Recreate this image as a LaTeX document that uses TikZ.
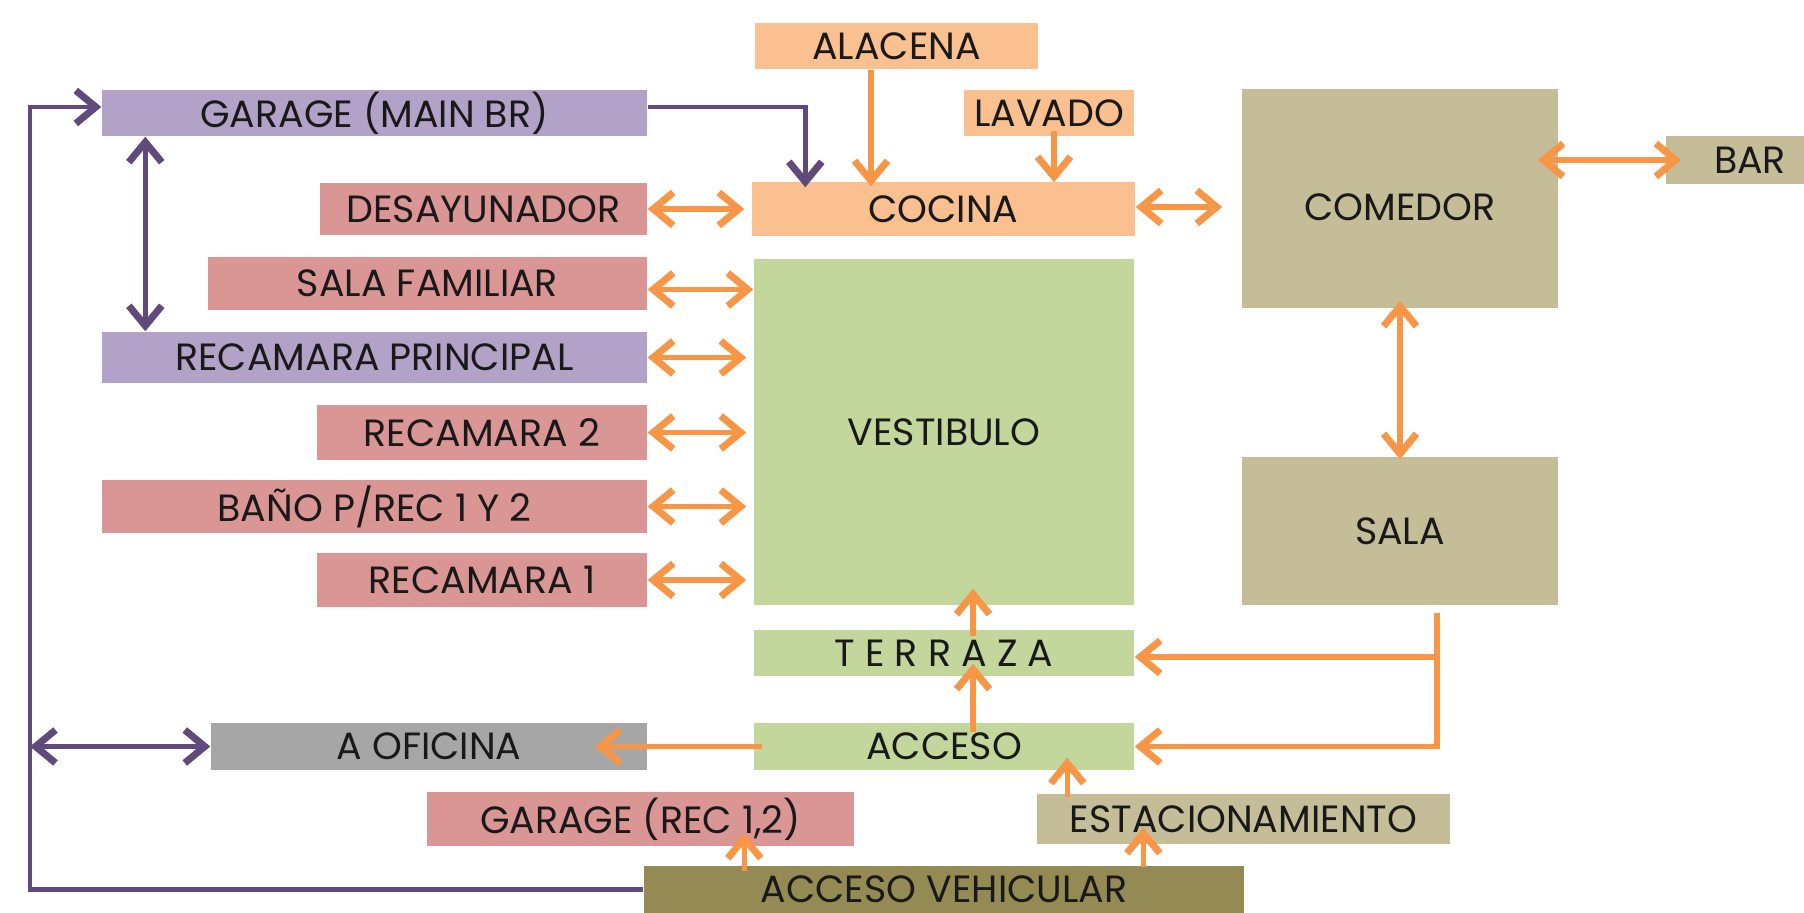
\documentclass[tikz,border=0pt]{standalone}
\usepackage{fontspec}
\setmainfont{Poppins}
\usetikzlibrary{arrows.meta}
\definecolor{lila}{HTML}{B2A2C7}
\definecolor{rosa}{HTML}{D99694}
\definecolor{durazno}{HTML}{FAC090}
\definecolor{verde}{HTML}{C3D69B}
\definecolor{arena}{HTML}{C4BD97}
\definecolor{gris}{HTML}{A6A6A6}
\definecolor{olivo}{HTML}{948A54}
\definecolor{naranja}{HTML}{F79646}
\definecolor{morado}{HTML}{604A7B}

\begin{document}
\begin{tikzpicture}[
  espacio/.style={inner sep=0pt, text=black!90, font=\fontsize{10.8}{12}\selectfont},
  con/.style={line width=1.5pt, naranja, >={Straight Barb[length=2mm,width=3.3mm,line width=2pt]}},
  conm/.style={line width=1.4pt, morado, >={Straight Barb[length=2mm,width=3.3mm,line width=2pt]}}]
  \useasboundingbox (0,0) rectangle (18.04,-9.13);
  \clip (0,0) rectangle (18.04,-9.13);
  % Espacios
  \node[espacio, fill=durazno, minimum width=2.83cm, minimum height=0.46cm] (alacena) at (8.965,-0.46) {ALACENA};
  \node[espacio, fill=durazno, minimum width=1.70cm, minimum height=0.46cm] (lavado) at (10.49,-1.13) {LAVADO};
  \node[espacio, fill=lila, minimum width=5.45cm, minimum height=0.46cm] (gmain) at (3.745,-1.13) {GARAGE (MAIN BR)};
  \node[espacio, fill=durazno, minimum width=3.83cm, minimum height=0.54cm] (cocina) at (9.435,-2.09) {COCINA};
  \node[espacio, fill=rosa, minimum width=3.27cm, minimum height=0.52cm] (desay) at (4.835,-2.09) {DESAYUNADOR};
  \node[espacio, fill=arena, minimum width=3.16cm, minimum height=2.19cm] (comedor) at (14.00,-1.985) {\raisebox{-2.2mm}[0pt][0pt]{COMEDOR}};
  \node[espacio, fill=arena, minimum width=1.68cm, minimum height=0.48cm] (bar) at (17.50,-1.60) {BAR};
  \node[espacio, fill=rosa, minimum width=4.39cm, minimum height=0.53cm] (famil) at (4.275,-2.835) {SALA FAMILIAR};
  \node[espacio, fill=verde, minimum width=3.80cm, minimum height=3.46cm] (vest) at (9.44,-4.32) {VESTIBULO};
  \node[espacio, fill=lila, minimum width=5.45cm, minimum height=0.51cm] (recp) at (3.745,-3.575) {RECAMARA PRINCIPAL};
  \node[espacio, fill=rosa, minimum width=3.30cm, minimum height=0.55cm] (rec2) at (4.82,-4.325) {RECAMARA 2};
  \node[espacio, fill=rosa, minimum width=5.45cm, minimum height=0.53cm] (bano) at (3.745,-5.065) {BAÑO P/REC 1 Y 2};
  \node[espacio, fill=rosa, minimum width=3.30cm, minimum height=0.54cm] (rec1) at (4.82,-5.80) {RECAMARA 1};
  \node[espacio, fill=verde, minimum width=3.80cm, minimum height=0.46cm] (terraza) at (9.44,-6.53) {T E R R A Z A};
  \node[espacio, fill=verde, minimum width=3.80cm, minimum height=0.47cm] (acceso) at (9.44,-7.465) {ACCESO};
  \node[espacio, fill=gris, minimum width=4.36cm, minimum height=0.47cm] (aofi) at (4.29,-7.465) {A OFICINA};
  \node[espacio, fill=rosa, minimum width=4.27cm, minimum height=0.54cm] (garage2) at (6.405,-8.19) {GARAGE (REC 1,2)};
  \node[espacio, fill=arena, minimum width=4.13cm, minimum height=0.50cm] (estac) at (12.435,-8.19) {ESTACIONAMIENTO};
  \node[espacio, fill=olivo, minimum width=6.00cm, minimum height=0.47cm] (accveh) at (9.44,-8.895) {ACCESO VEHICULAR};
  \node[espacio, fill=arena, minimum width=3.16cm, minimum height=1.48cm] (sala) at (14.00,-5.31) {SALA};

  % Recorridos recamara principal
  \coordinate (esq) at (0.30,-8.92);
  \draw[conm,->] (accveh.west) -- (accveh.west -| esq) |- ([yshift=0.06cm]gmain.west);
  \draw[conm,<->] (aofi.west -| esq) -- (aofi.west);
  \draw[conm,<->] ([xshift=0.44cm]gmain.south west) -- ([xshift=0.44cm]recp.north west);
  \draw[conm,->] ([yshift=0.06cm]gmain.east) -| ([xshift=0.54cm,yshift=-0.06cm]cocina.north west);

  % Cocina y comedor
  \draw[con,->] ([xshift=-0.255cm]alacena.south) -- ([xshift=-0.255cm,yshift=-0.05cm]alacena.south |- cocina.north);
  \draw[con,->] ([xshift=0.05cm,yshift=0.06cm]lavado.south) -- ([xshift=0.05cm,yshift=-0.01cm]lavado.south |- cocina.north);
  \draw[con,<->,shorten >=0.07cm] (desay.east) -- (cocina.west);
  \draw[con,<->,shorten >=0.19cm] ([yshift=0.02cm]cocina.east) -- ([yshift=0.02cm]cocina.east -| comedor.west);
  \draw[con,<->] ([xshift=-0.21cm]comedor.east |- bar.west) -- ([xshift=0.16cm]bar.west);
  \draw[con,<->] ([yshift=0.08cm]comedor.south) -- ([yshift=-0.03cm]sala.north);

  % Vestibulo
  \draw[con,<->] ([yshift=-0.06cm]famil.east) -- ([yshift=-0.06cm]famil.east -| vest.west);
  \foreach \r in {recp,rec2,bano,rec1}
    \draw[con,<->,shorten >=0.07cm] (\r.east) -- (\r.east -| vest.west);
  \draw[con,->] ([xshift=0.29cm,yshift=-0.07cm]terraza.north) -- ([xshift=0.29cm,yshift=0.17cm]vest.south);
  \draw[con,->] ([xshift=0.29cm,yshift=-0.1cm]acceso.north) -- ([xshift=0.29cm,yshift=0.13cm]terraza.south);

  % Salidas de la sala
  \coordinate (sj) at ([xshift=0.37cm,yshift=-0.07cm]sala.south);
  \draw[con,->] (sj) |- (acceso.east);
  \draw[con,->] ([yshift=-0.04cm]sj |- terraza.east) -- ([yshift=-0.04cm]terraza.east);

  % Accesos
  \draw[con,->] ([xshift=0.09cm]acceso.west) -- ([xshift=-0.53cm]aofi.east);
  \draw[con,->] ([xshift=0.31cm,yshift=-0.04cm]estac.north west) -- ([xshift=0.31cm,yshift=0.13cm]estac.north west |- acceso.south);
  \draw[con,->] ([xshift=1.01cm,yshift=-0.06cm]accveh.north west) -- ([xshift=1.01cm,yshift=0.14cm]accveh.north west |- garage2.south);
  \draw[con,->] ([xshift=5.0cm,yshift=-0.02cm]accveh.north west) -- ([xshift=5.0cm,yshift=0.17cm]accveh.north west |- estac.south);
\end{tikzpicture}
\end{document}
